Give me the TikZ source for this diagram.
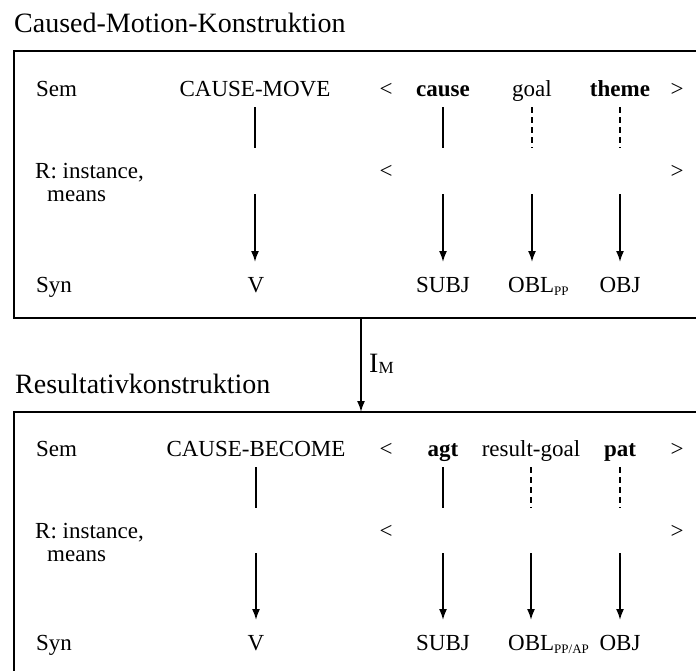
\documentclass[tikz,border=0pt]{standalone}
\usepackage{fontspec}
\setmainfont{Liberation Serif}
\usetikzlibrary{arrows.meta}
\begin{document}
\begin{tikzpicture}[x=1pt,y=-1pt,
  lbl/.style={anchor=base west, inner sep=0pt, font=\fontsize{23}{26}\selectfont},
  txt/.style={anchor=base, inner sep=0pt, font=\fontsize{23}{26}\selectfont},
  head/.style={anchor=base west, inner sep=0pt, font=\fontsize{28}{32}\selectfont},
  frame/.style={line width=2.4pt},
  link/.style={line width=1.7pt},
  dlink/.style={line width=1.7pt, dash pattern=on 6pt off 4pt},
  arr/.style={line width=1.7pt, -{Latex[length=11pt,width=8pt]}},
]
\useasboundingbox (0,0) rectangle (696,670);

% headings
\node[head] (h1) at (14,32) {Caused-Motion-Konstruktion};
\node[head] (h2) at (15,393) {Resultativkonstruktion};

% the two frames run past the right (and lower) edge
\begin{scope}
  \clip (0,0) rectangle (696,670);
  \draw[frame] (14,51) rectangle (730,318);
  \draw[frame] (14,412) rectangle (730,720);
\end{scope}

% ---------- upper construction ----------
\node[lbl] (sem1) at (36,96) {Sem};
\node[lbl] (r1) at (35,178) {R: instance,};
\node[lbl] (m1) at (47,201) {means};
\node[lbl] (syn1) at (36,292) {Syn};

\node[txt] (pred1) at (255,96) {CAUSE-MOVE};
\node[txt] (lt1) at (386,96) {<};
\node[txt] (cause) at (443,96) {\textbf{cause}};
\node[txt] (goal) at (532,96) {goal};
\node[txt] (theme) at (620,96) {\textbf{theme}};
\node[txt] (gt1) at (677,96) {>};
\node[txt] (lt1r) at (386,178) {<};
\node[txt] (gt1r) at (677,178) {>};

\node[txt] (v1) at (256,292) {V};
\node[txt] (subj1) at (443,292) {SUBJ};
\node[lbl] (obl1) at (508,292) {OBL\raisebox{-3pt}{\fontsize{13}{14}\selectfont PP}};
\node[txt] (obj1) at (620,292) {OBJ};

\coordinate (a1) at (0,107);
\coordinate (b1) at (0,148);
\coordinate (c1) at (0,194);
\coordinate (d1) at (0,262);

\draw[link] (pred1 |- a1) -- (pred1 |- b1);
\draw[link] (cause |- a1) -- (cause |- b1);
\draw[dlink] (goal |- a1) -- (goal |- b1);
\draw[dlink] (theme |- a1) -- (theme |- b1);

\draw[arr] (pred1 |- c1) -- (pred1 |- d1);
\draw[arr] (cause |- c1) -- (cause |- d1);
\draw[arr] (goal |- c1) -- (goal |- d1);
\draw[arr] (theme |- c1) -- (theme |- d1);

% ---------- inheritance link ----------
\coordinate (ia) at (361,318);
\coordinate (ib) at (361,412);
\draw[arr] (ia) -- (ib);
\node[anchor=base west, inner sep=0pt, font=\fontsize{28}{30}\selectfont] (im) at (369,372)
  {I\raisebox{-1pt}{\fontsize{17}{18}\selectfont M}};

% ---------- lower construction ----------
\node[lbl] (sem2) at (36,456) {Sem};
\node[lbl] (r2) at (35,538) {R: instance,};
\node[lbl] (m2) at (47,561) {means};
\node[lbl] (syn2) at (36,650) {Syn};

\node[txt] (pred2) at (256,456) {CAUSE-BECOME};
\node[txt] (lt2) at (386,456) {<};
\node[txt] (agt) at (443,456) {\textbf{agt}};
\node[txt] (rgoal) at (531,456) {result-goal};
\node[txt] (pat) at (620,456) {\textbf{pat}};
\node[txt] (gt2) at (677,456) {>};
\node[txt] (lt2r) at (386,538) {<};
\node[txt] (gt2r) at (677,538) {>};

\node[txt] (v2) at (256,650) {V};
\node[txt] (subj2) at (443,650) {SUBJ};
\node[lbl] (obl2) at (508,650) {OBL\raisebox{-3pt}{\fontsize{13}{14}\selectfont PP/AP}};
\node[txt] (obj2) at (620,650) {OBJ};

\coordinate (a2) at (0,467);
\coordinate (b2) at (0,508);
\coordinate (c2) at (0,553);
\coordinate (d2) at (0,620);

\draw[link] (pred2 |- a2) -- (pred2 |- b2);
\draw[link] (agt |- a2) -- (agt |- b2);
\draw[dlink] (rgoal |- a2) -- (rgoal |- b2);
\draw[dlink] (pat |- a2) -- (pat |- b2);

\draw[arr] (pred2 |- c2) -- (pred2 |- d2);
\draw[arr] (agt |- c2) -- (agt |- d2);
\draw[arr] (rgoal |- c2) -- (rgoal |- d2);
\draw[arr] (pat |- c2) -- (pat |- d2);
\end{tikzpicture}
\end{document}
